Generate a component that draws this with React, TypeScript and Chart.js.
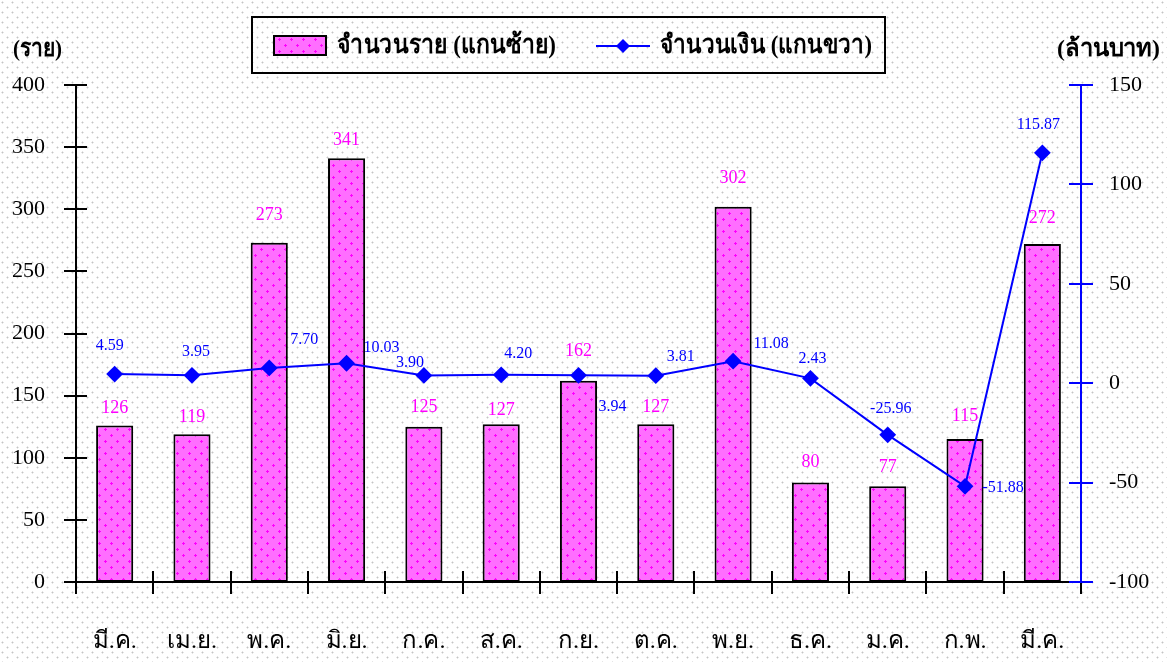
import React, { useEffect, useRef } from "react";
import { Chart, registerables } from "chart.js";

Chart.register(...registerables);

const CATEGORIES = ["มี.ค.", "เม.ย.", "พ.ค.", "มิ.ย.", "ก.ค.", "ส.ค.", "ก.ย.", "ต.ค.", "พ.ย.", "ธ.ค.", "ม.ค.", "ก.พ.", "มี.ค."];
const CASES = [126, 119, 273, 341, 125, 127, 162, 127, 302, 80, 77, 115, 272];
const AMOUNTS = [4.59, 3.95, 7.7, 10.03, 3.9, 4.2, 3.94, 3.81, 11.08, 2.43, -25.96, -51.88, 115.87];
const AMOUNT_TEXT = ["4.59", "3.95", "7.70", "10.03", "3.90", "4.20", "3.94", "3.81", "11.08", "2.43", "-25.96", "-51.88", "115.87"];

const LEFT_TITLE = "(ราย)";
const RIGHT_TITLE = "(ล้านบาท)";
const BAR_LEGEND = "จำนวนราย (แกนซ้าย)";
const LINE_LEGEND = "จำนวนเงิน (แกนขวา)";

// label placement (style only): offsets from the mark, in px
const CASE_LABEL_LIFT = [17, 17, 28, 18, 19, 14, 29, 17, 28, 20, 19, 23, 26];
const AMOUNT_LABEL_OFFSET = [
  [-5, -28], [4, -24], [35, -28], [35, -15], [-14, -13], [17, -21], [34, 31],
  [25, -19], [38, -17], [2, -20], [3, -26], [38, 1], [-4, -28],
];

const SERIF = "'Liberation Serif', 'Times New Roman', serif";
const MAGENTA = "#FF00FF";
const BLUE = "#0000FF";

function tileFromPixels(ctx: CanvasRenderingContext2D, size: number, pick: (x: number, y: number) => number[]) {
  const c = document.createElement("canvas");
  c.width = size;
  c.height = size;
  const g = c.getContext("2d")!;
  const img = g.createImageData(size, size);
  for (let y = 0; y < size; y++) {
    for (let x = 0; x < size; x++) {
      const [r, gg, b] = pick(x, y);
      const k = (y * size + x) * 4;
      img.data[k] = r;
      img.data[k + 1] = gg;
      img.data[k + 2] = b;
      img.data[k + 3] = 255;
    }
  }
  g.putImageData(img, 0, 0);
  return ctx.createPattern(c, "repeat")!;
}

function makeDotPattern(ctx: CanvasRenderingContext2D) {
  return tileFromPixels(ctx, 10, (x, y) => {
    if ((x === 2 && y === 2) || (x === 7 && y === 7)) return [196, 196, 196];
    const nearA = Math.abs(x - 2) + Math.abs(y - 2) === 1;
    const nearB = Math.abs(x - 7) + Math.abs(y - 7) === 1;
    if (nearA || nearB) return [228, 228, 228];
    return [255, 255, 255];
  });
}

function makeBarPattern(ctx: CanvasRenderingContext2D) {
  const isPlus = (x: number, y: number, cx: number, cy: number) =>
    (y === cy && Math.abs(x - cx) <= 1) || (x === cx && Math.abs(y - cy) <= 1);
  return tileFromPixels(ctx, 12, (x, y) => {
    if (isPlus(x, y, 3, 3) || isPlus(x, y, 9, 9)) return [255, 0, 255];
    return [255, 110, 255];
  });
}

function drawFitted(c: CanvasRenderingContext2D, text: string, x: number, y: number, width: number) {
  const m = c.measureText(text).width;
  const s = width / m;
  c.save();
  c.translate(x, y);
  c.scale(s, 1);
  c.textAlign = "left";
  c.fillText(text, 0, 0);
  c.restore();
}

export default function App() {
  const ref = useRef<HTMLCanvasElement | null>(null);

  useEffect(() => {
    const canvas = ref.current!;
    const ctx = canvas.getContext("2d")!;
    const dots = makeDotPattern(ctx);
    const barFill = makeBarPattern(ctx);

    const decor = {
      id: "decor",
      beforeDraw(chart: any) {
        const c = chart.ctx;
        c.save();
        c.fillStyle = dots;
        c.fillRect(0, 0, chart.width, chart.height);
        c.restore();
      },
      afterDatasetsDraw(chart: any) {
        const c: CanvasRenderingContext2D = chart.ctx;
        const { left, right, top, bottom } = chart.chartArea;
        const y = chart.scales.y;
        const y1 = chart.scales.y1;
        c.save();
        c.strokeStyle = "#000";
        c.lineWidth = 2;
        c.beginPath();
        c.moveTo(left - 12, bottom);
        c.lineTo(right + 12, bottom);
        const n = CATEGORIES.length;
        const w = (right - left) / n;
        for (let i = 0; i <= n; i++) {
          const px = Math.round(left + i * w);
          c.moveTo(px, bottom - 11);
          c.lineTo(px, bottom + 12);
        }
        c.moveTo(left, top);
        c.lineTo(left, bottom);
        for (let v = 0; v <= 400; v += 50) {
          const py = Math.round(y.getPixelForValue(v));
          c.moveTo(left - 12, py);
          c.lineTo(left + 11, py);
        }
        c.stroke();
        c.strokeStyle = BLUE;
        c.beginPath();
        c.moveTo(right, top);
        c.lineTo(right, bottom);
        for (let v = -100; v <= 150; v += 50) {
          const py = Math.round(y1.getPixelForValue(v));
          c.moveTo(right - 12, py);
          c.lineTo(right + 12, py);
        }
        c.stroke();
        c.restore();

        c.save();
        c.textAlign = "center";
        c.textBaseline = "middle";
        c.font = `18px ${SERIF}`;
        c.fillStyle = MAGENTA;
        const barMeta = chart.getDatasetMeta(0);
        barMeta.data.forEach((el: any, i: number) => {
          c.fillText(String(CASES[i]), el.x, el.y - CASE_LABEL_LIFT[i]);
        });
        c.font = `16px ${SERIF}`;
        c.fillStyle = BLUE;
        const lineMeta = chart.getDatasetMeta(1);
        lineMeta.data.forEach((el: any, i: number) => {
          const [dx, dy] = AMOUNT_LABEL_OFFSET[i];
          c.fillText(AMOUNT_TEXT[i], el.x + dx, el.y + dy);
        });
        c.restore();
      },
      afterDraw(chart: any) {
        const c: CanvasRenderingContext2D = chart.ctx;
        c.save();
        c.fillStyle = "#000";
        c.textBaseline = "middle";
        c.font = `bold 24px ${SERIF}`;
        drawFitted(c, LEFT_TITLE, 13, 50, 49);
        drawFitted(c, RIGHT_TITLE, 1057, 50, 103);
        c.strokeStyle = "#000";
        c.lineWidth = 2;
        c.strokeRect(252, 17, 633, 56);
        c.fillStyle = barFill;
        c.fillRect(274, 36, 52, 19);
        c.strokeRect(274, 36, 52, 19);
        c.fillStyle = "#000";
        c.font = `bold 26px ${SERIF}`;
        drawFitted(c, BAR_LEGEND, 337, 46, 219);
        c.strokeStyle = BLUE;
        c.beginPath();
        c.moveTo(596, 46);
        c.lineTo(650, 46);
        c.stroke();
        c.fillStyle = BLUE;
        c.beginPath();
        c.moveTo(623, 39);
        c.lineTo(630, 46);
        c.lineTo(623, 53);
        c.lineTo(616, 46);
        c.closePath();
        c.fill();
        c.fillStyle = "#000";
        drawFitted(c, LINE_LEGEND, 660, 46, 212);
        c.restore();
      },
    };

    const chart = new Chart(ctx, {
      type: "bar",
      data: {
        labels: CATEGORIES,
        datasets: [
          {
            type: "bar",
            label: BAR_LEGEND,
            data: CASES,
            backgroundColor: barFill as any,
            borderColor: "#000",
            borderWidth: 2,
            borderSkipped: false,
            barPercentage: 0.48,
            categoryPercentage: 1,
            yAxisID: "y",
            order: 2,
          },
          {
            type: "line",
            label: LINE_LEGEND,
            data: AMOUNTS,
            borderColor: BLUE,
            backgroundColor: BLUE,
            borderWidth: 2,
            pointStyle: "rectRot",
            pointRadius: 7,
            pointBackgroundColor: BLUE,
            pointBorderColor: BLUE,
            tension: 0,
            yAxisID: "y1",
            order: 1,
          },
        ],
      },
      options: {
        responsive: false,
        animation: false,
        devicePixelRatio: 1,
        layout: { padding: { top: 85, left: 0, right: 0, bottom: 0 } },
        plugins: {
          legend: { display: false },
          title: { display: false },
          tooltip: { enabled: false },
        },
        scales: {
          x: {
            offset: true,
            grid: { display: false, drawTicks: false },
            border: { display: false },
            ticks: {
              color: "#000",
              font: { family: SERIF, size: 24 },
              padding: 45,
              maxRotation: 0,
              autoSkip: false,
            },
            afterFit(scale: any) {
              scale.height = 80;
            },
          },
          y: {
            position: "left",
            min: 0,
            max: 400,
            grid: { display: false, drawTicks: false },
            border: { display: false },
            ticks: {
              stepSize: 50,
              color: "#000",
              font: { family: SERIF, size: 22 },
              padding: 31,
            },
            afterFit(scale: any) {
              scale.width = 76;
            },
          },
          y1: {
            position: "right",
            min: -100,
            max: 150,
            grid: { display: false, drawTicks: false },
            border: { display: false },
            ticks: {
              stepSize: 50,
              color: "#000",
              font: { family: SERIF, size: 22 },
              padding: 28,
            },
            afterFit(scale: any) {
              scale.width = 86;
            },
          },
        },
      },
      plugins: [decor],
    });
    return () => chart.destroy();
  }, []);

  return (
    <div style={{ position: "fixed", left: 0, top: 0, width: 1167, height: 662 }}>
      <canvas ref={ref} width={1167} height={662} style={{ display: "block" }} />
    </div>
  );
}
